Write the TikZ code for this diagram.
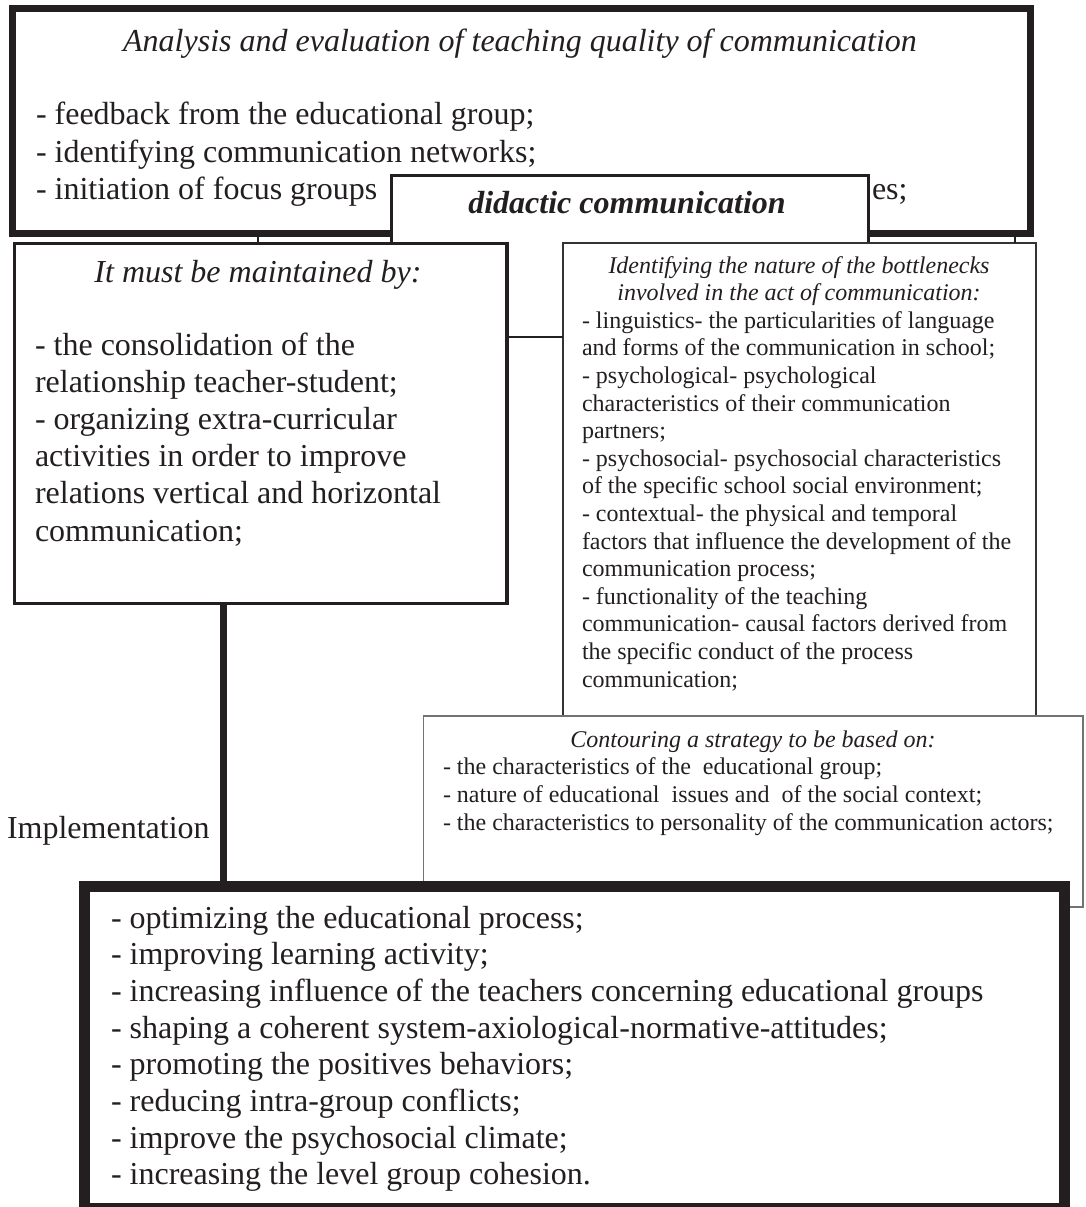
\documentclass[tikz,border=0pt]{standalone}
\usepackage{fontspec}
\setmainfont{Liberation Serif}
\definecolor{ink}{RGB}{35,31,32}
\begin{document}
\begin{tikzpicture}[x=1pt,y=-1pt, color=ink, text=ink,
  box/.style={draw=ink, fill=white, inner sep=0pt, outer sep=0pt, anchor=north west},
  big/.style={inner sep=0pt, outer sep=0pt, font=\fontsize{32}{36.8}\selectfont},
  small/.style={inner sep=0pt, outer sep=0pt, font=\fontsize{24}{27.6}\selectfont},
  link/.style={draw=ink, line width=2pt}]
\useasboundingbox (0,0) rectangle (1085,1207);

% top box
\node[box, line width=7pt, minimum width=1018pt, minimum height=224pt] (top) at (12,9) {};
\node[big, anchor=base] (t0) at (520,52) {\itshape Analysis and evaluation of teaching quality of communication};
\node[big, anchor=base west] (t1) at (36,124) {- feedback from the educational group;};
\node[big, anchor=base west] (t2) at (36,162) {- identifying communication networks;};
\node[big, anchor=base west] (t3) at (36,199) {- initiation of focus groups};

% didactic communication box (open at the bottom)
\node[box, draw=none, minimum width=477.5pt, minimum height=70pt] (did) at (391,175.5) {};
\draw[line width=3pt, line join=miter] (did.south west) -- (did.north west) -- (did.north east) -- (did.south east);
\node[big, anchor=base] (d0) at (627,213) {\bfseries\itshape didactic communication};
\node[big, anchor=base west] (t4) at (872,199) {es;};

% left box
\node[box, line width=3.5pt, minimum width=492.75pt, minimum height=360pt] (lbox) at (14.25,243.5) {};
\node[big, anchor=base] (l0) at (258,282) {\itshape It must be maintained by:};
\foreach \t [count=\i] in {
  {- the consolidation of the},
  {relationship teacher-student;},
  {- organizing extra-curricular},
  {activities in order to improve},
  {relations vertical and horizontal},
  {communication;}}
  \node[big, anchor=base west] (l\i) at (35,{355+37.2*(\i-1)}) {\t};

% right box
\node[box, draw=black!80, line width=1.5pt, minimum width=473pt, minimum height=473pt] (rbox) at (563,243) {};
\node[small, anchor=base] (r0a) at (799,273) {\itshape Identifying the nature of the bottlenecks};
\node[small, anchor=base] (r0b) at (799,300.6) {\itshape involved in the act of communication:};
\foreach \t [count=\i] in {
  {- linguistics- the particularities of language},
  {and forms of the communication in school;},
  {- psychological- psychological},
  {characteristics of their communication},
  {partners;},
  {- psychosocial- psychosocial characteristics},
  {of the specific school social environment;},
  {- contextual- the physical and temporal},
  {factors that influence the development of the},
  {communication process;},
  {- functionality of the teaching},
  {communication- causal factors derived from},
  {the specific conduct of the process},
  {communication;}}
  \node[small, anchor=base west] (r\i) at (582,{328.2+27.6*(\i-1)}) {\t};

% contouring box
\node[box, draw=black!55, line width=1.5pt, minimum width=659.5pt, minimum height=191pt] (cbox) at (423.5,716) {};
\node[small, anchor=base] (c0) at (753,747) {\itshape Contouring a strategy to be based on:};
\foreach \t [count=\i] in {
  {- the characteristics of the\ \ educational group;},
  {- nature of educational\ \ issues and\ \ of the social context;},
  {- the characteristics to personality of the communication actors;}}
  \node[small, anchor=base west] (c\i) at (443,{747+27.7*\i}) {\t};

% bottom box
\node[box, line width=11pt, minimum width=980pt, minimum height=322pt] (bbox) at (84,886.5) {};
\foreach \t [count=\i] in {
  {- optimizing the educational process;},
  {- improving learning activity;},
  {- increasing influence of the teachers concerning educational groups},
  {- shaping a coherent system-axiological-normative-attitudes;},
  {- promoting the positives behaviors;},
  {- reducing intra-group conflicts;},
  {- improve the psychosocial climate;},
  {- increasing the level group cohesion.}}
  \node[big, anchor=base west] (b\i) at (111,{928+36.7*(\i-1)}) {\t};

% label
\node[big, anchor=base west] (impl) at (7,838) {Implementation};

% connectors
\coordinate (cx1) at (258,240);
\coordinate (cx2) at (1015,240);
\coordinate (hy) at (535,337);
\coordinate (vx) at (223.5,700);
\draw[link] (cx1 |- top.south) -- (cx1 |- lbox.north);
\draw[link] (cx2 |- top.south) -- (cx2 |- rbox.north);
\draw[link, line width=2.5pt] (hy -| lbox.east) -- (hy -| rbox.west);
\draw[link, line width=7pt] (vx |- lbox.south) -- (vx |- bbox.north);
\end{tikzpicture}
\end{document}
